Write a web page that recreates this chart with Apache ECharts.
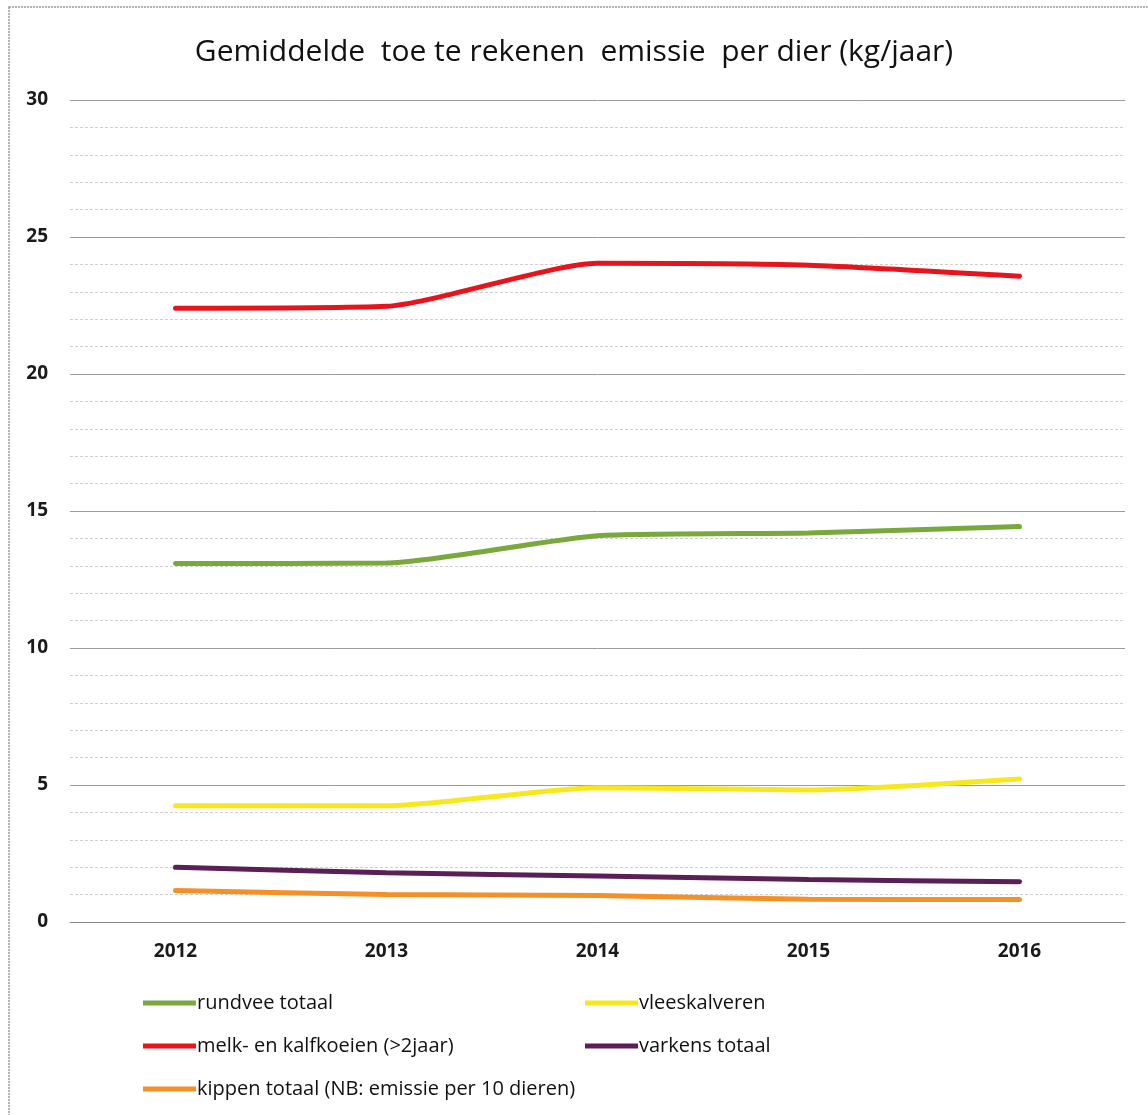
<!DOCTYPE html>
<html>
<head>
<meta charset="utf-8">
<script src="https://cdn.jsdelivr.net/npm/echarts@6/dist/echarts.min.js"></script>
<style>html,body{margin:0;padding:0;background:#fff}#c{width:1148px;height:1115px}</style>
</head>
<body>
<div id="c"></div>
<script>
const years = ['2012', '2013', '2014', '2015', '2016'];
const rundvee = [13.08, 13.1, 14.1, 14.2, 14.43];
const melk = [22.4, 22.47, 24.04, 23.97, 23.57];
const vleeskalveren = [4.24, 4.24, 4.9, 4.82, 5.22];
const varkens = [2.0, 1.8, 1.68, 1.55, 1.47];
const kippen = [1.15, 1.0, 0.97, 0.83, 0.82];
const yTicks = [0, 5, 10, 15, 20, 25, 30];

const names = ['rundvee totaal', 'melk- en kalfkoeien (>2jaar)', 'kippen totaal (NB: emissie per 10 dieren)', 'vleeskalveren', 'varkens totaal'];
const colors = ['#79a83c', '#e8141c', '#f39028', '#f7e81e', '#5b1f57'];
const datas = [rundvee, melk, kippen, vleeskalveren, varkens];
const legendPos = [[143, 993], [143, 1036], [143, 1079], [585, 993], [585, 1036]];

const font = '"Open Sans", sans-serif';
const chart = echarts.init(document.getElementById('c'));
chart.setOption({
  backgroundColor: '#fff',
  animation: false,
  title: {
    text: 'Gemiddelde  toe te rekenen  emissie  per dier (kg/jaar)',
    left: 'center', top: 32,
    textStyle: {fontFamily: font, fontSize: 30, fontWeight: 500, color: '#111'}
  },
  graphic: [{
    type: 'rect', shape: {x: 9, y: 7, width: 1160, height: 1130},
    style: {fill: 'none', stroke: '#9a9a9a', lineWidth: 1.5, lineDash: [2, 1]}, silent: true
  }],
  legend: names.map((n, i) => ({
    data: [n], left: legendPos[i][0], top: legendPos[i][1], padding: 0,
    icon: 'rect', itemWidth: 53, itemHeight: 5, itemGap: 0,
    textStyle: {fontFamily: font, fontSize: 20, color: '#111', padding: [0, 0, 0, -4]}
  })),
  grid: {left: 70, right: 23, top: 100, height: 822, containLabel: false},
  xAxis: {
    type: 'category', data: years, boundaryGap: true,
    axisLine: {show: true, lineStyle: {color: '#8a8a8a', width: 1}},
    axisTick: {show: false},
    axisLabel: {margin: 20, fontFamily: font, fontSize: 19, fontWeight: 'bold', color: '#1a1a1a'}
  },
  yAxis: {
    type: 'value', min: 0, max: 30, interval: 5,
    axisLine: {show: false}, axisTick: {show: false},
    axisLabel: {margin: 22, fontFamily: font, fontSize: 19, fontWeight: 'bold', color: '#1a1a1a',
      formatter: v => yTicks.includes(v) ? String(v) : ''},
    splitLine: {lineStyle: {color: '#9a9a9a', width: 1}},
    minorTick: {show: false, splitNumber: 5},
    minorSplitLine: {show: true, lineStyle: {color: '#cfcfcf', width: 1, type: [3, 2]}}
  },
  series: names.map((n, i) => ({
    name: n, type: 'line', data: datas[i], smooth: 0.2,
    showSymbol: false, symbol: 'none',
    lineStyle: {color: colors[i], width: 5, cap: 'round'},
    itemStyle: {color: colors[i]},
    z: 3
  }))
});
</script>
</body>
</html>
